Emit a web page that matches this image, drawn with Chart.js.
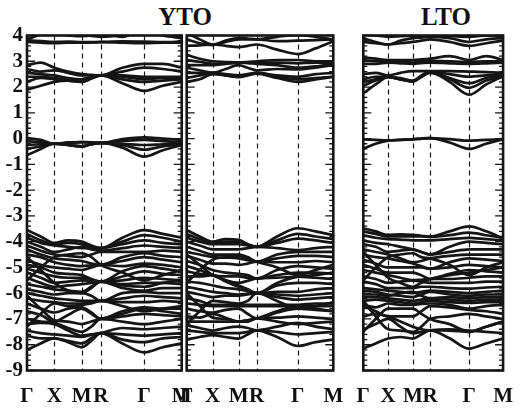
<!DOCTYPE html>
<html>
<head>
<meta charset="utf-8">
<script src="https://cdn.jsdelivr.net/npm/chart.js"></script>
<style>
  body { margin: 0; background: #fff; }
  #wrap { position: relative; width: 526px; height: 410px; }
  #wrap canvas { position: absolute; left: 0; top: 0; }
  .title {
    position: absolute; top: 3.5px; width: 100px; text-align: center;
    font: bold 25px "Liberation Serif", "Times New Roman", serif;
    line-height: 25px; color: #111;
  }
</style>
</head>
<body>
<div id="wrap">
  <div class="title" style="left:135px">YTO</div>
  <div class="title" style="left:396px">LTO</div>
  <canvas id="ytoA" width="526" height="410"></canvas>
  <canvas id="ytoB" width="526" height="410"></canvas>
  <canvas id="lto" width="526" height="410"></canvas>
</div>
<script>
// k-path: high symmetry points (fraction of path length)
const kPath = [0, 0.177, 0.354, 0.477, 0.757, 1];
const kLabels = ["Γ", "X", "M", "R", "Γ", "M"];
// band energies (eV) sampled at Γ, ½, X, ½, M, ½, R, ½, Γ, ½, M

const ytoAConduction = [
  [4.3, 4.4, 4.2, 4.0, 3.97, 4.0, 4.1, 3.95, 4.2, 4.0, 3.9],
  [3.85, 4.05, 4.3, 4.2, 4.05, 3.98, 3.95, 4.0, 4.1, 4.05, 3.95],
  [3.82, 3.78, 3.75, 3.76, 3.74, 3.74, 3.75, 3.77, 3.76, 3.74, 3.76],
  [3.75, 3.72, 3.7, 3.72, 3.72, 3.73, 3.74, 3.72, 3.7, 3.72, 3.72],
  [2.85, 2.95, 2.75, 2.6, 2.5, 2.47, 2.45, 2.75, 2.9, 2.9, 2.75],
  [2.7, 2.6, 2.65, 2.55, 2.45, 2.45, 2.45, 2.6, 2.75, 2.7, 2.6],
  [2.55, 2.5, 2.45, 2.35, 2.3, 2.38, 2.45, 2.45, 2.4, 2.4, 2.4],
  [2.4, 2.4, 2.35, 2.3, 2.3, 2.38, 2.45, 2.4, 2.3, 2.35, 2.35],
  [2.2, 2.35, 2.3, 2.25, 2.2, 2.33, 2.45, 2.3, 2.2, 2.25, 2.3],
  [1.9, 2.05, 2.2, 2.25, 2.2, 2.33, 2.45, 2.15, 1.85, 2.05, 2.2]
];
const ytoAGap = [
  [0.02, -0.05, -0.2, -0.15, -0.14, -0.15, -0.17, -0.02, 0.05, 0.0, -0.05],
  [-0.1, -0.15, -0.2, -0.17, -0.14, -0.15, -0.17, -0.1, -0.05, -0.1, -0.15],
  [-0.25, -0.22, -0.2, -0.25, -0.3, -0.22, -0.17, -0.2, -0.25, -0.22, -0.2],
  [-0.4, -0.3, -0.2, -0.25, -0.3, -0.22, -0.17, -0.25, -0.43, -0.3, -0.22],
  [-0.65, -0.4, -0.2, -0.25, -0.3, -0.22, -0.17, -0.35, -0.7, -0.45, -0.25]
];
const ytoAValence = [
  [-3.55, -3.8, -4.05, -3.95, -4.0, -4.15, -4.25, -3.85, -3.55, -3.7, -3.85],
  [-3.7, -3.95, -4.1, -4.05, -4.1, -4.2, -4.25, -4.0, -3.75, -3.85, -4.0],
  [-3.85, -4.05, -4.15, -4.2, -4.25, -4.25, -4.25, -4.1, -3.95, -4.05, -4.1],
  [-4.0, -4.2, -4.4, -4.3, -4.2, -4.3, -4.35, -4.25, -4.15, -4.2, -4.25],
  [-4.15, -4.35, -4.5, -4.55, -4.6, -4.5, -4.4, -4.4, -4.4, -4.35, -4.4],
  [-4.3, -4.5, -4.65, -4.7, -4.75, -4.85, -4.9, -4.6, -4.45, -4.55, -4.6],
  [-4.5, -4.6, -4.8, -4.9, -4.95, -4.92, -4.9, -4.75, -4.6, -4.7, -4.8],
  [-4.6, -5.1, -5.6, -5.9, -6.0, -5.8, -5.55, -5.7, -5.75, -5.6, -5.5],
  [-4.7, -4.9, -5.0, -5.05, -5.1, -5.0, -4.9, -4.95, -4.85, -4.9, -5.0],
  [-4.9, -5.0, -5.2, -5.25, -5.3, -5.45, -5.55, -5.15, -4.95, -5.05, -5.15],
  [-5.05, -5.2, -5.35, -5.4, -5.4, -5.5, -5.55, -5.35, -5.15, -5.25, -5.3],
  [-5.2, -5.4, -5.6, -5.55, -5.5, -5.52, -5.55, -5.5, -5.4, -5.45, -5.5],
  [-5.4, -5.6, -5.75, -5.7, -5.65, -5.6, -5.55, -5.65, -5.6, -5.6, -5.65],
  [-5.5, -5.0, -4.6, -4.5, -4.45, -4.6, -4.9, -5.2, -5.5, -5.3, -5.1],
  [-5.65, -5.75, -5.85, -5.9, -5.95, -5.75, -5.55, -5.8, -5.9, -5.8, -5.8],
  [-5.85, -5.95, -6.05, -6.0, -6.0, -6.1, -6.3, -6.0, -5.95, -6.0, -6.0],
  [-6.0, -6.1, -6.2, -6.25, -6.3, -6.3, -6.3, -6.2, -6.1, -6.15, -6.2],
  [-6.1, -6.6, -7.05, -7.1, -7.2, -7.1, -7.0, -6.8, -6.6, -6.7, -6.8],
  [-6.2, -6.3, -6.35, -6.4, -6.4, -6.35, -6.3, -6.35, -6.35, -6.3, -6.35],
  [-6.4, -6.6, -6.75, -6.6, -6.55, -6.75, -7.0, -6.7, -6.55, -6.6, -6.6],
  [-6.7, -6.85, -7.1, -6.85, -6.6, -6.8, -7.0, -6.9, -6.8, -6.85, -6.9],
  [-7.3, -6.8, -6.4, -6.5, -6.45, -6.4, -6.3, -6.5, -6.7, -6.6, -6.5],
  [-7.0, -7.1, -7.15, -7.35, -7.5, -7.3, -7.0, -7.1, -7.2, -7.1, -7.0],
  [-7.2, -7.15, -7.2, -7.45, -7.65, -7.6, -7.55, -7.35, -7.4, -7.35, -7.3],
  [-7.45, -7.55, -7.6, -7.65, -7.7, -7.62, -7.55, -7.6, -7.65, -7.6, -7.55],
  [-7.65, -7.75, -7.75, -7.85, -7.95, -7.75, -7.55, -7.8, -7.9, -7.75, -7.7],
  [-8.2, -7.95, -7.75, -7.9, -8.1, -7.85, -7.55, -7.95, -8.3, -8.1, -7.95]
];

const ytoBConduction = [
  [4.1, 3.85, 3.65, 3.8, 3.9, 3.88, 3.85, 3.95, 4.02, 3.95, 3.85],
  [3.85, 3.7, 3.63, 3.75, 3.85, 3.85, 3.85, 3.78, 3.8, 3.82, 3.85],
  [3.6, 3.62, 3.65, 3.6, 3.55, 3.6, 3.65, 3.45, 3.28, 3.5, 3.78],
  [3.25, 3.1, 3.0, 2.97, 2.95, 2.97, 3.0, 3.05, 3.05, 3.0, 3.0],
  [3.05, 2.98, 2.9, 2.92, 2.95, 2.95, 2.95, 2.95, 2.92, 2.95, 2.95],
  [2.85, 2.85, 2.85, 2.9, 2.95, 2.93, 2.9, 2.85, 2.75, 2.8, 2.9],
  [2.75, 2.65, 2.55, 2.7, 2.85, 2.75, 2.65, 2.7, 2.68, 2.75, 2.85],
  [2.55, 2.55, 2.55, 2.5, 2.45, 2.5, 2.55, 2.45, 2.4, 2.5, 2.55],
  [2.35, 2.45, 2.55, 2.45, 2.4, 2.48, 2.55, 2.4, 2.3, 2.35, 2.4],
  [2.2, 2.3, 2.5, 2.45, 2.38, 2.45, 2.52, 2.35, 2.2, 2.3, 2.4]
];
const ytoBValence = [
  [-3.55, -3.8, -4.0, -3.9, -3.93, -4.1, -4.2, -3.8, -3.48, -3.6, -3.75],
  [-3.7, -3.9, -4.05, -4.0, -4.0, -4.1, -4.2, -3.95, -3.7, -3.8, -3.9],
  [-3.85, -4.0, -4.1, -4.1, -4.1, -4.15, -4.2, -4.05, -3.88, -3.95, -4.05],
  [-4.0, -4.15, -4.3, -4.3, -4.3, -4.25, -4.2, -4.25, -4.33, -4.25, -4.2],
  [-4.2, -4.35, -4.5, -4.5, -4.5, -4.6, -4.78, -4.5, -4.4, -4.4, -4.4],
  [-4.4, -4.5, -4.6, -4.62, -4.65, -4.72, -4.78, -4.65, -4.55, -4.55, -4.6],
  [-4.55, -4.7, -4.85, -4.85, -4.9, -4.85, -4.78, -4.8, -4.8, -4.75, -4.8],
  [-4.5, -4.9, -5.3, -5.5, -5.7, -5.85, -6.0, -5.6, -5.36, -5.3, -5.2],
  [-4.75, -4.9, -5.1, -5.2, -5.25, -5.3, -5.43, -5.1, -4.95, -5.0, -5.05],
  [-4.95, -5.1, -5.3, -5.35, -5.35, -5.4, -5.43, -5.3, -5.2, -5.2, -5.25],
  [-5.15, -5.25, -5.3, -5.5, -5.6, -5.52, -5.43, -5.4, -5.36, -5.4, -5.45],
  [-5.6, -5.1, -4.7, -4.6, -4.55, -4.65, -4.78, -5.0, -5.3, -5.1, -4.9],
  [-5.35, -5.35, -5.3, -5.55, -5.75, -5.85, -6.0, -5.7, -5.6, -5.6, -5.65],
  [-5.55, -5.6, -5.7, -5.8, -5.85, -5.92, -6.0, -5.95, -5.95, -5.85, -5.8],
  [-5.75, -5.85, -5.95, -6.0, -6.05, -6.02, -6.0, -6.05, -6.1, -6.05, -6.0],
  [-5.95, -6.05, -6.15, -6.1, -6.1, -6.05, -6.0, -6.15, -6.25, -6.2, -6.15],
  [-6.0, -6.5, -6.95, -7.0, -7.1, -7.05, -6.98, -6.7, -6.5, -6.6, -6.7],
  [-6.2, -6.3, -6.45, -6.45, -6.45, -6.45, -6.45, -6.45, -6.45, -6.4, -6.4],
  [-6.4, -6.45, -6.5, -6.5, -6.5, -6.5, -6.5, -6.5, -6.5, -6.5, -6.5],
  [-6.6, -6.7, -6.75, -6.65, -6.6, -6.8, -6.98, -6.75, -6.6, -6.65, -6.7],
  [-7.2, -6.7, -6.3, -6.35, -6.4, -6.3, -6.0, -6.3, -6.6, -6.5, -6.35],
  [-6.9, -6.95, -6.8, -6.95, -7.1, -7.05, -6.98, -6.95, -6.9, -6.95, -7.0],
  [-7.1, -7.1, -7.1, -7.1, -7.1, -7.1, -6.98, -7.1, -7.2, -7.15, -7.1],
  [-7.25, -7.35, -7.45, -7.35, -7.3, -7.35, -7.44, -7.3, -7.15, -7.3, -7.4],
  [-7.45, -7.5, -7.55, -7.55, -7.55, -7.5, -7.44, -7.5, -7.6, -7.55, -7.5],
  [-7.8, -7.7, -7.63, -7.7, -7.76, -7.6, -7.44, -7.7, -8.05, -7.9, -7.8]
];

const ltoConduction = [
  [4.05, 4.0, 3.95, 3.97, 4.0, 4.0, 4.0, 3.98, 3.95, 4.0, 4.0],
  [3.9, 3.75, 3.65, 3.8, 3.9, 3.92, 3.95, 3.9, 3.75, 3.85, 3.9],
  [3.75, 3.7, 3.65, 3.7, 3.75, 3.8, 3.85, 3.75, 3.6, 3.7, 3.8],
  [3.15, 3.1, 3.05, 3.05, 3.05, 3.07, 3.1, 3.2, 3.05, 3.2, 3.05],
  [3.05, 3.0, 3.0, 3.0, 2.95, 3.0, 3.02, 3.0, 2.98, 3.0, 3.0],
  [2.9, 2.9, 2.95, 2.92, 2.9, 2.93, 2.95, 2.92, 2.9, 2.92, 2.95],
  [2.5, 2.55, 2.45, 2.55, 2.62, 2.62, 2.62, 2.62, 2.6, 2.58, 2.55],
  [2.3, 2.4, 2.4, 2.35, 2.25, 2.45, 2.6, 2.5, 2.4, 2.45, 2.5],
  [2.05, 2.25, 2.4, 2.3, 2.22, 2.42, 2.58, 2.35, 2.15, 2.35, 2.45],
  [2.2, 2.3, 2.38, 2.3, 2.22, 2.4, 2.55, 2.3, 1.97, 2.25, 2.42],
  [1.75, 2.1, 2.38, 2.3, 2.22, 2.4, 2.58, 2.2, 1.7, 2.1, 2.42]
];
const ltoGap = [
  [-0.03, -0.05, -0.07, -0.05, -0.03, 0.0, 0.02, -0.02, -0.08, -0.05, -0.02],
  [-0.4, -0.2, -0.08, -0.05, -0.03, 0.0, 0.02, -0.15, -0.4, -0.2, -0.02]
];
const ltoValence = [
  [-3.48, -3.6, -3.74, -3.72, -3.74, -3.77, -3.8, -3.6, -3.41, -3.6, -3.87],
  [-3.6, -3.7, -3.8, -3.8, -3.8, -3.8, -3.82, -3.75, -3.65, -3.75, -3.85],
  [-3.75, -3.85, -3.9, -3.92, -3.95, -3.95, -3.95, -3.9, -3.85, -3.9, -3.95],
  [-3.95, -4.05, -4.1, -4.2, -4.3, -4.4, -4.5, -4.2, -4.0, -4.05, -4.1],
  [-4.1, -4.2, -4.4, -4.35, -4.3, -4.4, -4.5, -4.4, -4.3, -4.3, -4.3],
  [-4.3, -4.4, -4.5, -4.65, -4.8, -4.75, -4.65, -4.55, -4.5, -4.5, -4.5],
  [-4.5, -4.6, -4.65, -4.75, -4.85, -4.95, -5.05, -4.8, -4.65, -4.7, -4.75],
  [-4.4, -4.9, -5.4, -5.6, -5.75, -5.6, -5.45, -5.3, -5.2, -5.1, -5.0],
  [-4.7, -4.85, -5.0, -5.0, -5.0, -5.0, -5.05, -5.0, -4.9, -4.95, -5.0],
  [-4.9, -5.05, -5.2, -5.2, -5.2, -5.3, -5.45, -5.25, -5.1, -5.15, -5.2],
  [-5.1, -5.2, -5.3, -5.4, -5.5, -5.48, -5.45, -5.45, -5.4, -5.35, -5.35],
  [-5.5, -5.0, -4.6, -4.5, -4.45, -4.6, -4.65, -4.9, -5.3, -5.0, -4.8],
  [-5.35, -5.45, -5.6, -5.55, -5.5, -5.55, -5.6, -5.6, -5.6, -5.55, -5.55],
  [-5.55, -5.65, -5.8, -5.8, -5.8, -5.75, -5.75, -5.8, -5.82, -5.78, -5.75],
  [-5.8, -5.85, -5.9, -5.95, -6.0, -5.95, -5.9, -5.95, -6.0, -5.95, -5.9],
  [-5.9, -5.95, -6.05, -6.1, -6.15, -6.05, -5.95, -6.05, -6.1, -6.05, -6.05],
  [-6.05, -6.05, -6.1, -6.0, -5.95, -6.1, -6.2, -6.15, -6.2, -6.15, -6.15],
  [-6.15, -6.15, -6.2, -6.25, -6.3, -6.25, -6.2, -6.25, -6.3, -6.25, -6.25],
  [-6.3, -6.25, -6.3, -6.35, -6.4, -6.35, -6.3, -6.35, -6.38, -6.35, -6.35],
  [-6.45, -6.55, -6.4, -6.45, -6.45, -6.42, -6.4, -6.45, -6.6, -6.5, -6.45],
  [-6.3, -6.9, -7.4, -7.45, -7.5, -7.3, -7.0, -6.9, -6.8, -6.9, -7.0],
  [-6.5, -6.7, -6.9, -6.9, -6.9, -6.7, -6.5, -6.55, -6.65, -6.7, -6.8],
  [-7.5, -7.0, -6.6, -6.6, -6.6, -6.8, -7.0, -7.2, -7.5, -7.3, -7.1],
  [-6.9, -6.8, -6.9, -7.1, -7.3, -7.4, -7.44, -7.45, -7.5, -7.3, -7.1],
  [-7.4, -7.2, -7.0, -7.3, -7.55, -7.5, -7.44, -7.4, -7.45, -7.5, -7.55],
  [-8.15, -7.95, -7.76, -7.7, -7.76, -7.6, -7.44, -7.75, -8.15, -7.95, -7.76]
];

// sample positions: every high symmetry point plus the middle of each segment
const kSample = [];
kPath.forEach((k, i) => {
  if (i > 0) kSample.push((kPath[i - 1] + k) / 2);
  kSample.push(k);
});

const ink = "#151515";
const serif = "'Liberation Serif', 'Times New Roman', serif";

// frame, dashed k lines and inward ticks
const framePlugin = {
  id: "frame",
  beforeDatasetsDraw(chart) {
    const { ctx, chartArea: a, scales } = chart;
    ctx.save();
    ctx.strokeStyle = ink;
    ctx.lineWidth = 1.2;
    ctx.setLineDash([5, 4]);
    kPath.slice(1, -1).forEach((k) => {
      const x = Math.round(scales.x.getPixelForValue(k)) + 0.5;
      ctx.beginPath();
      ctx.moveTo(x, a.top);
      ctx.lineTo(x, a.bottom);
      ctx.stroke();
    });
    ctx.restore();
  },
  afterDatasetsDraw(chart) {
    const { ctx, chartArea: a, scales } = chart;
    ctx.save();
    ctx.strokeStyle = ink;
    ctx.lineWidth = 1.3;
    for (let i = -45; i <= 20; i++) {
      const y = scales.y.getPixelForValue(i / 5);
      const len = i % 5 === 0 ? 8 : 4;
      ctx.beginPath();
      ctx.moveTo(a.left, y);
      ctx.lineTo(a.left + len, y);
      ctx.moveTo(a.right, y);
      ctx.lineTo(a.right - len, y);
      ctx.stroke();
    }
    ctx.lineWidth = 2.6;
    ctx.strokeRect(a.left, a.top, a.right - a.left, a.bottom - a.top);
    ctx.restore();
  }
};

function drawPanel(id, left, right, bands, showAxis) {
  const datasets = bands.map((band) => ({
    data: band.map((e, i) => ({ x: kSample[i], y: e })),
    borderColor: ink,
    borderWidth: 2.7,
    pointRadius: 0,
    fill: false,
    cubicInterpolationMode: "monotone"
  }));

  return new Chart(document.getElementById(id), {
    type: "line",
    data: { datasets },
    options: {
      responsive: false,
      animation: false,
      events: [],
      layout: {
        padding: { left: showAxis ? 0 : left, right: 526 - right, top: 35.5, bottom: 0 }
      },
      plugins: { legend: { display: false }, tooltip: { enabled: false } },
      scales: {
        x: {
          type: "linear",
          min: 0,
          max: 1,
          afterBuildTicks: (s) => { s.ticks = kPath.map((v) => ({ value: v })); },
          afterFit: (s) => { s.height = 39.5; },
          grid: { display: false, drawTicks: false },
          border: { display: false },
          ticks: {
            autoSkip: false,
            maxRotation: 0,
            padding: 13,
            color: "#111",
            font: { family: serif, weight: "bold", size: 21 },
            callback: (v, i) => kLabels[i]
          }
        },
        y: {
          min: -9,
          max: 4,
          display: showAxis,
          afterFit: (s) => { s.width = showAxis ? left : 0; },
          grid: { display: false, drawTicks: false },
          border: { display: false },
          ticks: {
            stepSize: 1,
            autoSkip: false,
            padding: 4,
            color: "#111",
            font: { family: serif, weight: "bold", size: 21 }
          }
        }
      }
    },
    plugins: [framePlugin]
  });
}

drawPanel("ytoA", 27, 181.7, [...ytoAConduction, ...ytoAGap, ...ytoAValence], true);
drawPanel("ytoB", 186.7, 333.3, [...ytoBConduction, ...ytoBValence], false);
drawPanel("lto", 363.3, 515.7, [...ltoConduction, ...ltoGap, ...ltoValence], false);
</script>
</body>
</html>
